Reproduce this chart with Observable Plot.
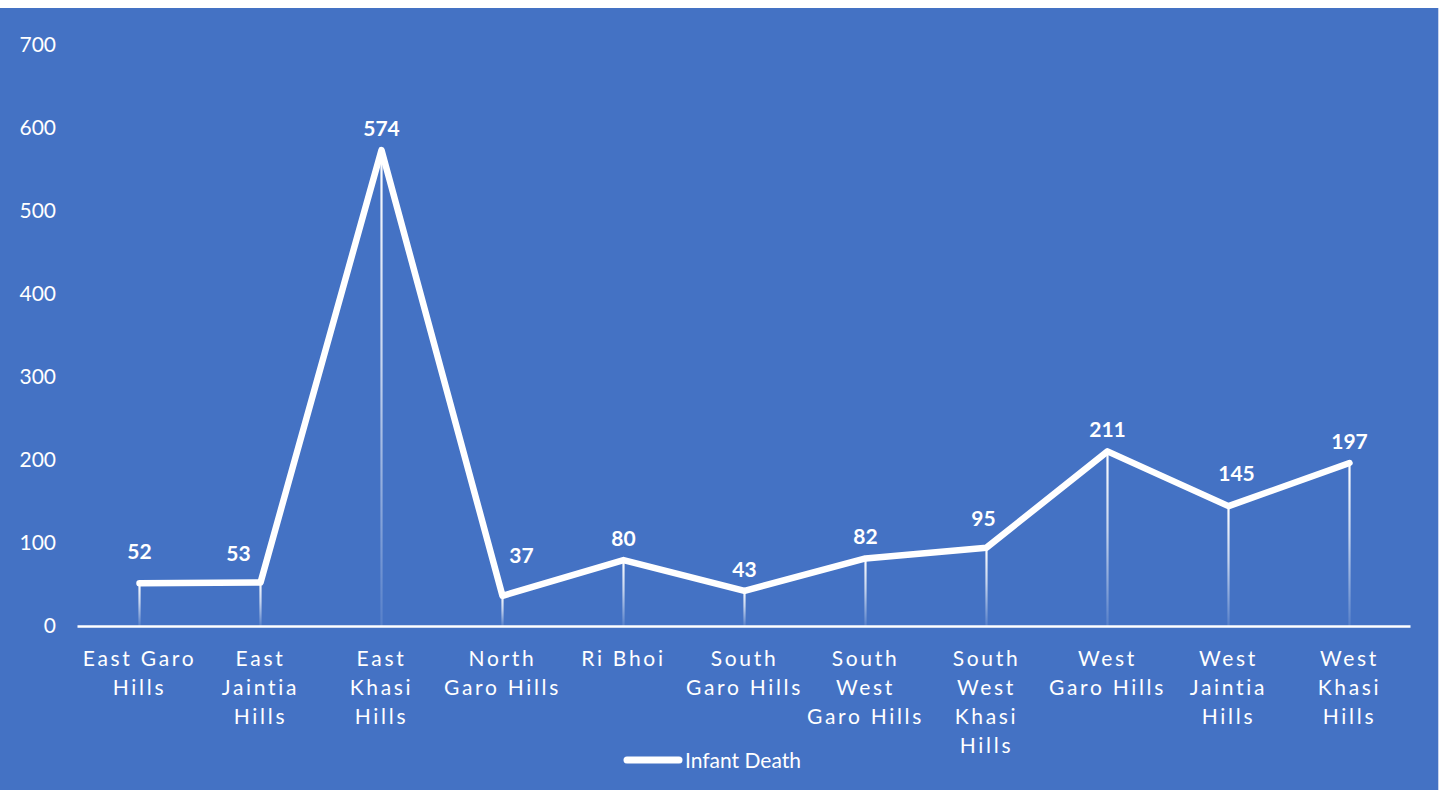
<!DOCTYPE html>
<html>
<head>
<meta charset="utf-8">
<script src="https://cdn.jsdelivr.net/npm/d3@7"></script>
<script src="https://cdn.jsdelivr.net/npm/@observablehq/plot@0.6"></script>
<style>
  html, body { margin: 0; padding: 0; background: #ffffff; }
  #wrap { position: absolute; top: 8px; left: 0; width: 1438px; height: 782px; background: #4472C4; border-right: 1px solid #c8d4ee; font-family: Lato, "Open Sans", sans-serif; }
  #chart svg { overflow: visible; display: block; }
  #chart g[aria-label="x-axis tick label"] text { letter-spacing: 2.7px; }
  #legend { position: absolute; top: 739px; left: 0; width: 1424px; display: flex; justify-content: center; align-items: center; color: #ffffff; font-size: 21px; font-family: Lato, "Open Sans", sans-serif; }
  #legend svg { display: block; margin-right: 2px; }
</style>
</head>
<body>
<div id="wrap">
  <div id="chart"></div>
  <div id="legend"><svg width="60" height="14"><line x1="4" y1="7" x2="56" y2="7" stroke="#ffffff" stroke-width="7" stroke-linecap="round"/></svg><span>Infant Death</span></div>
</div>
<script>
const categories = [
  "East Garo Hills", "East Jaintia Hills", "East Khasi Hills", "North Garo Hills",
  "Ri Bhoi", "South Garo Hills", "South West Garo Hills", "South West Khasi Hills",
  "West Garo Hills", "West Jaintia Hills", "West Khasi Hills"
];
const tickLabels = [
  "East Garo\nHills", "East\nJaintia\nHills", "East\nKhasi\nHills", "North\nGaro Hills",
  "Ri Bhoi", "South\nGaro Hills", "South\nWest\nGaro Hills", "South\nWest\nKhasi\nHills",
  "West\nGaro Hills", "West\nJaintia\nHills", "West\nKhasi\nHills"
];
const infantDeaths = [52, 53, 574, 37, 80, 43, 82, 95, 211, 145, 197];
const yTicks = [0, 100, 200, 300, 400, 500, 600, 700];

const data = categories.map((c, i) => ({district: c, value: infantDeaths[i]}));
const labelMap = new Map(categories.map((c, i) => [c, tickLabels[i]]));

// label nudges (styling only), as moved by hand in the original chart
const labelNudges = [
  {district: "East Garo Hills", dx: 0, dy: -31},
  {district: "East Jaintia Hills", dx: -22, dy: -28},
  {district: "North Garo Hills", dx: 19, dy: -40},
  {district: "South West Khasi Hills", dx: -3, dy: -28},
  {district: "West Jaintia Hills", dx: 8, dy: -32}
];
const nudged = new Set(labelNudges.map(n => n.district));
const labelStyle = { x: "district", y: "value", text: d => String(d.value), fill: "#ffffff", fontSize: 21, fontWeight: "bold" };

const chart = Plot.plot({
  width: 1438,
  height: 740,
  marginTop: 37,
  marginBottom: 122,
  marginLeft: 77.5,
  marginRight: 27.5,
  style: { background: "transparent", color: "#ffffff", fontFamily: "Lato, 'Open Sans', sans-serif", overflow: "visible" },
  x: { type: "point", domain: categories, padding: 0.5 },
  y: { domain: [0, 700] },
  marks: [
    Plot.ruleX(data, { x: "district", y1: 0, y2: "value", stroke: "#ffffff", strokeWidth: 2.2 }),
    Plot.ruleY([0], { stroke: "#ffffff", strokeWidth: 2.5 }),
    Plot.line(data, { x: "district", y: "value", stroke: "#ffffff", strokeWidth: 6.5, strokeLinecap: "round", strokeLinejoin: "round" }),
    Plot.text(data.filter(d => !nudged.has(d.district)), { ...labelStyle, dy: -21 }),
    ...labelNudges.map(n => Plot.text(data.filter(d => d.district === n.district), { ...labelStyle, dx: n.dx, dy: n.dy })),
    Plot.axisY({ ticks: yTicks, tickSize: 0, tickPadding: 22, fontSize: 21, fill: "#ffffff", label: null }),
    Plot.axisX({ tickSize: 0, tickPadding: 19, fontSize: 21, lineHeight: 1.38, fill: "#ffffff", label: null, tickFormat: d => labelMap.get(d) })
  ]
});
document.getElementById("chart").appendChild(chart);

// fade the drop lines from white at the data point down to transparent at the axis
const ns = "http://www.w3.org/2000/svg";
const defs = document.createElementNS(ns, "defs");
chart.insertBefore(defs, chart.firstChild);
const dropGroup = chart.querySelectorAll('g[aria-label="rule"]')[0];
dropGroup.querySelectorAll("line").forEach((ln, i) => {
  const ya = +ln.getAttribute("y1"), yb = +ln.getAttribute("y2");
  const g = document.createElementNS(ns, "linearGradient");
  g.setAttribute("id", "drop" + i);
  g.setAttribute("gradientUnits", "userSpaceOnUse");
  g.setAttribute("x1", 0); g.setAttribute("x2", 0);
  g.setAttribute("y1", Math.min(ya, yb)); g.setAttribute("y2", Math.max(ya, yb));
  [[0, 1], [0.45, 0.7], [1, 0.1]].forEach(([o, a]) => {
    const s = document.createElementNS(ns, "stop");
    s.setAttribute("offset", o);
    s.setAttribute("stop-color", "#ffffff");
    s.setAttribute("stop-opacity", a);
    g.appendChild(s);
  });
  defs.appendChild(g);
  ln.setAttribute("stroke", "url(#drop" + i + ")");
});
</script>
</body>
</html>
